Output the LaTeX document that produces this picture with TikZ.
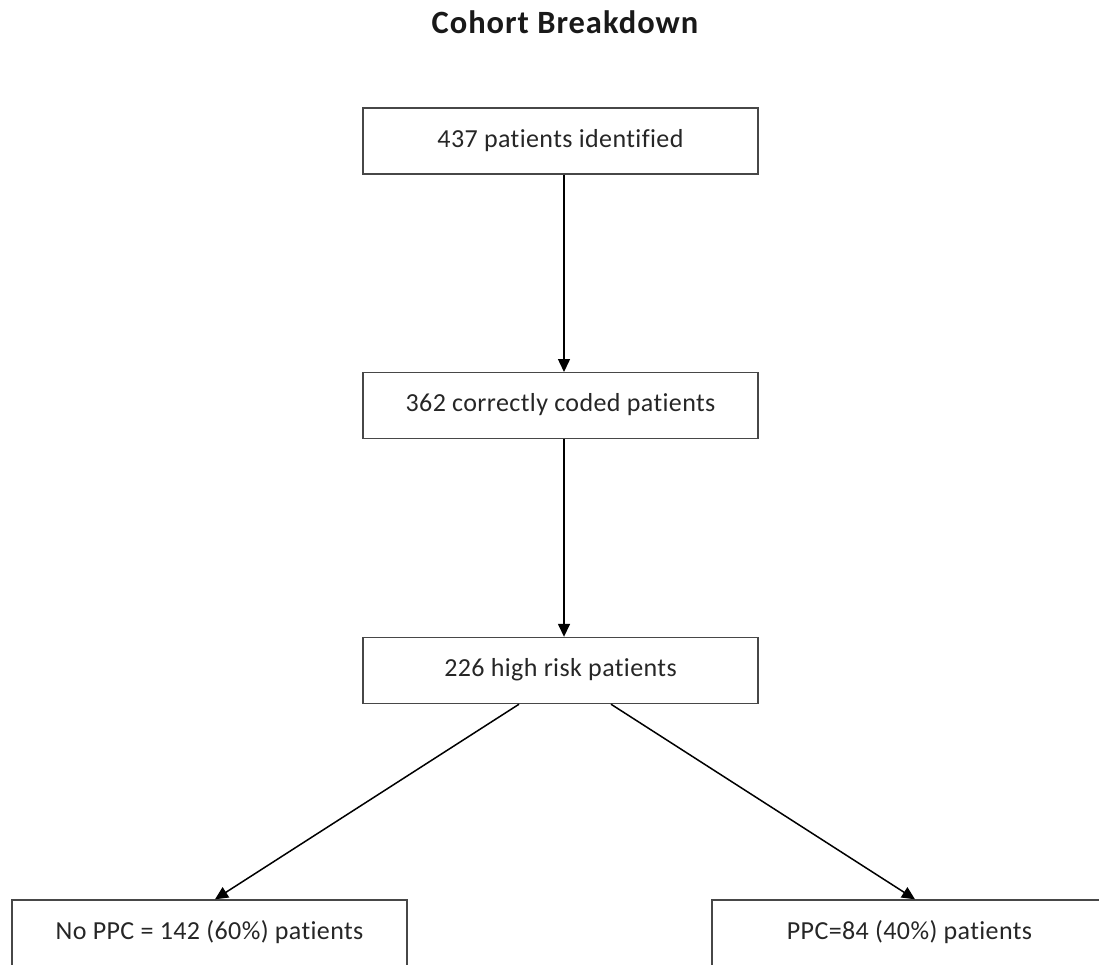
\documentclass[tikz,border=0pt]{standalone}
\usepackage{fontspec}
\setmainfont{Carlito}[Ligatures=NoCommon]
\newfontfamily\bodyfont{Carlito}[LetterSpace=1.5,Ligatures=NoCommon]
\newfontfamily\titlefont{Carlito}[LetterSpace=3,Ligatures=NoCommon]
\usetikzlibrary{arrows.meta}
\begin{document}
\begin{tikzpicture}[x=1pt,y=-1pt,
  box/.style={draw=black!72, line width=1.4pt, rectangle, minimum width=395pt, minimum height=66pt, inner sep=0pt, text=black!85, font=\bodyfont\fontsize{26}{30}\selectfont},
  conn/.style={line width=1.5pt, -{Triangle[length=13pt,width=12pt]}},
  ttl/.style={font=\titlefont\bfseries\fontsize{32.5}{38}\selectfont, text=black!90}
]
\useasboundingbox (0,0) rectangle (1099,964);
\clip (0,0) rectangle (1099,964);
\node[ttl, anchor=base] (title) at (565,33) {Cohort Breakdown};
\node[box] (b1) at (560.5,141) {\raisebox{6pt}{437 patients identified}};
\node[box] (b2) at (560.5,405.7) {\raisebox{6pt}{362 correctly coded patients}};
\node[box] (b3) at (560.5,670.5) {\raisebox{6pt}{226 high risk patients}};
\node[box] (bl) at (209.5,933) {\raisebox{6pt}{No PPC = 142 (60\%) patients}};
\node[box] (br) at (909.5,933) {\raisebox{6pt}{PPC=84 (40\%) patients}};
\draw[conn] ([xshift=3.5pt]b1.south) -- ([xshift=3.5pt]b2.north);
\draw[conn] ([xshift=3.5pt]b2.south) -- ([xshift=3.5pt]b3.north);
\draw[conn] ([xshift=-41.5pt]b3.south) -- ([xshift=5.5pt]bl.north);
\draw[conn] ([xshift=50.5pt]b3.south) -- ([xshift=5.5pt]br.north);
\end{tikzpicture}
\end{document}
